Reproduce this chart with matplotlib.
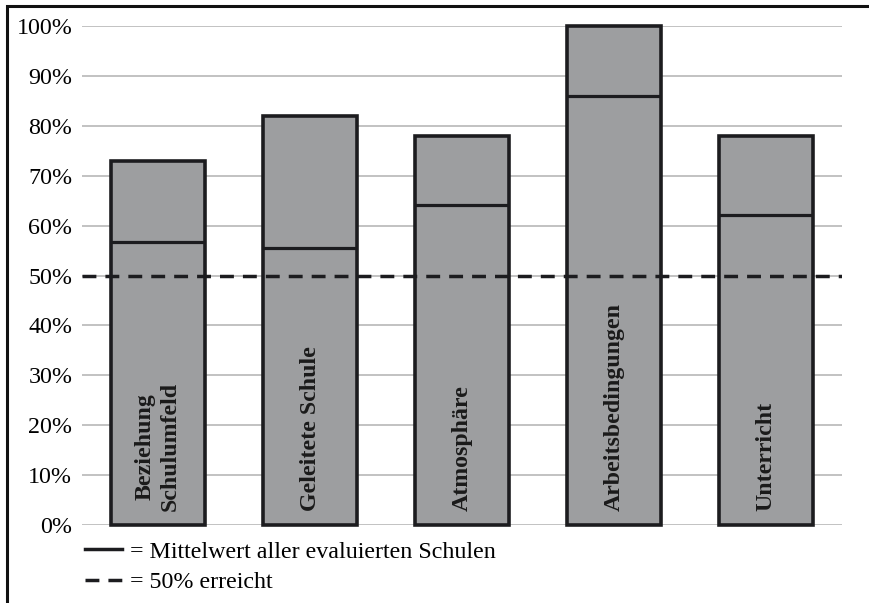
import numpy as np
import matplotlib.pyplot as plt
from matplotlib.lines import Line2D
from matplotlib.patches import Rectangle

plt.rcParams['font.family'] = ['Liberation Serif', 'DejaVu Serif']

# Werte je Bereich (Schule) und Mittelwert aller evaluierten Schulen
categories = ['Beziehung\nSchulumfeld', 'Geleitete Schule', 'Atmosphäre',
              'Arbeitsbedingungen', 'Unterricht']
values = [73, 82, 78, 100, 78]
means = [56.7, 55.5, 64.1, 86.0, 62.2]
threshold = 50
yticks = [0, 10, 20, 30, 40, 50, 60, 70, 80, 90, 100]
legend_labels = ['= Mittelwert aller evaluierten Schulen', '= 50% erreicht']

fill = '#9d9ea0'
edge = '#1c1c1f'
width = 0.62

fig = plt.figure(figsize=(8.69, 6.03), dpi=100)
ax = fig.add_axes([82/869, 78/603, 760/869, 499/603])

x = np.arange(len(categories))
ax.set_xlim(-0.5, len(categories) - 0.5)
ax.set_ylim(0, 100)

# grid
ax.set_yticks(yticks)
ax.set_yticklabels([f'{t}%' for t in yticks], fontsize=17.3)
ax.yaxis.grid(True, color='#bdbdbd', linewidth=1.3)
ax.set_axisbelow(True)
ax.tick_params(axis='y', length=0, pad=7)
ax.set_xticks([])
for s in ax.spines.values():
    s.set_visible(False)

ax.bar(x, values, width=width, color=fill, edgecolor=edge, linewidth=2.6,
       zorder=2, clip_on=False)
ax.hlines(means, x - width/2, x + width/2, color=edge, linewidth=2.3, zorder=3)
ax.axhline(threshold, color=edge, linewidth=2.5, dashes=(4, 2.6), zorder=4)

for xi, lab in zip(x, categories):
    ax.text(xi, 2.8, lab, rotation=90, ha='center', va='bottom',
            multialignment='center', fontsize=17.2, fontweight='bold',
            color='#1a1a1a', zorder=5, linespacing=1.25)

handles = [Line2D([], [], color=edge, linewidth=2.5),
           Line2D([], [], color=edge, linewidth=2.5, dashes=(4, 2.6))]
fig.legend(handles, legend_labels, loc='upper left',
           bbox_to_anchor=(85/869, 1 - 541/603), frameon=False,
           fontsize=17.3, handlelength=1.54, handletextpad=0.35,
           labelspacing=0.36, borderpad=0, borderaxespad=0)

# Rahmen um die Abbildung (rechts und unten abgeschnitten)
fig.add_artist(Rectangle((7/869, -0.05), 1.1, 0.05 + 1 - 6/603,
                         transform=fig.transFigure, fill=False,
                         edgecolor='#111111', linewidth=2.2))

fig.savefig('out.png', dpi=100)
